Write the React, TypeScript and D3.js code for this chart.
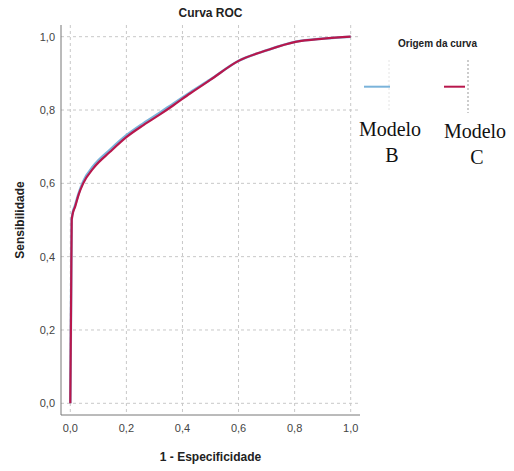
import React from "react";
import * as d3 from "d3";

// ROC curves: [1 - specificity, sensitivity]
const modelB: [number, number][] = [
  [0, 0], [0.001, 0.1], [0.003, 0.3], [0.005, 0.5], [0.008, 0.517],
  [0.017, 0.54], [0.03, 0.573], [0.046, 0.605], [0.082, 0.647],
  [0.142, 0.692], [0.2, 0.731], [0.261, 0.764], [0.32, 0.793],
  [0.368, 0.818], [0.427, 0.848], [0.499, 0.883],
  [0.6, 0.934], [0.701, 0.963], [0.803, 0.986], [0.904, 0.995], [1, 1],
];

const modelC: [number, number][] = [
  [0, 0], [0.001, 0.1], [0.003, 0.3], [0.005, 0.5], [0.008, 0.515],
  [0.017, 0.536], [0.03, 0.57], [0.046, 0.6], [0.082, 0.641],
  [0.142, 0.686], [0.2, 0.726], [0.261, 0.759], [0.32, 0.788],
  [0.368, 0.813], [0.427, 0.845], [0.499, 0.882],
  [0.6, 0.934], [0.701, 0.963], [0.803, 0.986], [0.904, 0.995], [1, 1],
];

const ticks = [0, 0.2, 0.4, 0.6, 0.8, 1.0];
const seriesNames = ["Modelo B", "Modelo C"];
const seriesColors = ["#7ab3da", "#b8174c"];

const fmt = (v: number) => v.toFixed(1).replace(".", ",");

export default function App() {
  const W = 514;
  const H = 471;
  const x = d3.scaleLinear().domain([0, 1]).range([70.3, 350.7]);
  const y = d3.scaleLinear().domain([0, 1]).range([403.3, 36.7]);
  const line = d3
    .line<[number, number]>()
    .x((d) => x(d[0]))
    .y((d) => y(d[1]))
    .curve(d3.curveMonotoneX);

  const axisLeft = 61;
  const axisBottom = 415;
  const plotTop = 25;
  const plotRight = 360;
  const sans = "Arial, 'Liberation Sans', sans-serif";
  const serif = "'Liberation Serif', 'Times New Roman', serif";

  return (
    <svg
      width={W}
      height={H}
      style={{ position: "absolute", left: 0, top: 0, background: "#fff" }}
    >
      <text x={210.5} y={17} textAnchor="middle" fontFamily={sans} fontWeight="bold" fontSize={12} fill="#222">
        Curva ROC
      </text>

      {/* grid */}
      {ticks.map((t) => (
        <line key={"h" + t} x1={axisLeft} x2={plotRight} y1={y(t)} y2={y(t)}
          stroke="#c8c8c8" strokeWidth={1} strokeDasharray="3,3" />
      ))}
      {ticks.map((t) => (
        <line key={"v" + t} x1={x(t)} x2={x(t)} y1={plotTop} y2={axisBottom}
          stroke="#c8c8c8" strokeWidth={1} strokeDasharray="3,3" />
      ))}

      {/* axes */}
      <line x1={axisLeft} x2={axisLeft} y1={plotTop} y2={axisBottom} stroke="#777" strokeWidth={1} />
      <line x1={axisLeft} x2={plotRight} y1={axisBottom} y2={axisBottom} stroke="#777" strokeWidth={1} />

      {ticks.map((t) => (
        <text key={"yl" + t} x={55} y={y(t) + 4} textAnchor="end" fontFamily={sans} fontSize={11} fill="#444">
          {fmt(t)}
        </text>
      ))}
      {ticks.map((t) => (
        <text key={"xl" + t} x={x(t)} y={432} textAnchor="middle" fontFamily={sans} fontSize={11} fill="#444">
          {fmt(t)}
        </text>
      ))}

      <text x={210.5} y={461} textAnchor="middle" fontFamily={sans} fontWeight="bold" fontSize={12} fill="#222">
        1 - Especificidade
      </text>
      <text transform="translate(24,220) rotate(-90)" textAnchor="middle" fontFamily={sans} fontWeight="bold" fontSize={12} fill="#222">
        Sensibilidade
      </text>

      {/* curves */}
      <path d={line(modelB) || ""} fill="none" stroke={seriesColors[0]} strokeWidth={2.5} />
      <path d={line(modelC) || ""} fill="none" stroke={seriesColors[1]} strokeWidth={2.2} />

      {/* legend */}
      <text x={437.5} y={47} textAnchor="middle" fontFamily={sans} fontWeight="bold" fontSize={10} fill="#222">
        Origem da curva
      </text>
      <line x1={389} x2={389} y1={60} y2={110} stroke="#e4e4e4" strokeDasharray="2,2" />
      <line x1={468} x2={468} y1={60} y2={113} stroke="#999" strokeDasharray="2,2" />
      {seriesNames.map((name, i) => {
        const cx = i === 0 ? 390 : 475;
        const lx1 = i === 0 ? 364 : 444;
        const lx2 = i === 0 ? 390 : 465;
        const [w1, w2] = name.split(" ");
        return (
          <g key={name}>
            <line x1={lx1} x2={lx2} y1={86.7} y2={86.7} stroke={seriesColors[i]} strokeWidth={2} />
            <text x={cx} y={136 + i * 2} textAnchor="middle" fontFamily={serif} fontSize={20} fill="#111">
              {w1}
            </text>
            <text x={cx + 2} y={162 + i * 2} textAnchor="middle" fontFamily={serif} fontSize={20} fill="#111">
              {w2}
            </text>
          </g>
        );
      })}
    </svg>
  );
}
